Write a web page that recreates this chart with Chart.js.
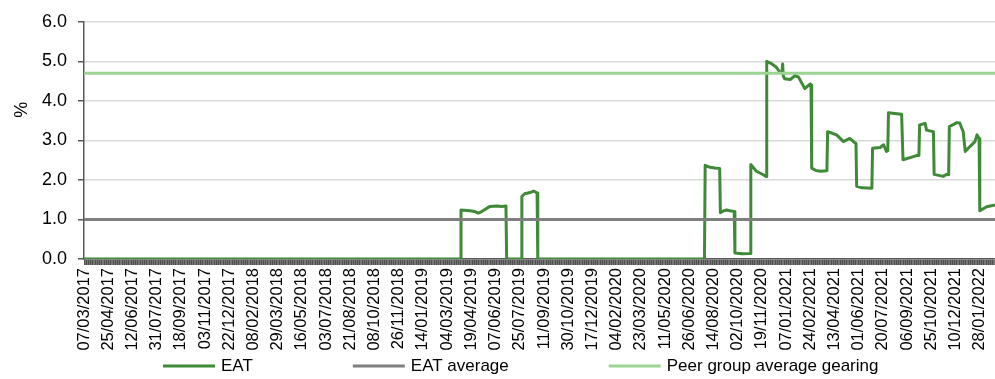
<!DOCTYPE html>
<html>
<head>
<meta charset="utf-8">
<script src="https://cdn.jsdelivr.net/npm/chart.js@4.4.1/dist/chart.umd.min.js"></script>
<style>
  html, body { margin: 0; padding: 0; background: #ffffff; }
  canvas { display: block; }
</style>
</head>
<body>
<canvas id="chart" width="995" height="379"></canvas>
<script>
// Axis labels: one every 35 trading days
const tickLabels = [
  '07/03/2017', '25/04/2017', '12/06/2017', '31/07/2017', '18/09/2017', '03/11/2017',
  '22/12/2017', '08/02/2018', '29/03/2018', '16/05/2018', '03/07/2018', '21/08/2018',
  '08/10/2018', '26/11/2018', '14/01/2019', '04/03/2019', '19/04/2019', '07/06/2019',
  '25/07/2019', '11/09/2019', '30/10/2019', '17/12/2019', '04/02/2020', '23/03/2020',
  '11/05/2020', '26/06/2020', '14/08/2020', '02/10/2020', '19/11/2020', '07/01/2021',
  '24/02/2021', '13/04/2021', '01/06/2021', '20/07/2021', '06/09/2021', '25/10/2021',
  '10/12/2021', '28/01/2022'
];
const labelEvery = 35;     // trading days between labels
const dayCount = 1318;     // trading days on the axis

// EAT gearing (%) by trading day, at the days where it moves
const eatDay = [
  0, 544, 545, 558, 565, 570, 575, 582, 587, 597, 604, 610, 611,
  632, 633, 637, 645, 650, 654, 655, 656,
  897, 898, 905, 912, 919, 920, 925, 929, 934, 940, 941, 952, 963,
  964, 972, 980, 986, 987, 993, 1001, 1006, 1009, 1010, 1011, 1013, 1021,
  1028, 1033, 1042, 1050, 1051, 1052, 1058, 1065, 1074, 1075, 1082, 1088,
  1098, 1107, 1115, 1116, 1117, 1125, 1139, 1140, 1151, 1156, 1160, 1162,
  1163, 1172, 1182, 1184, 1199, 1206, 1207, 1208, 1216, 1218, 1228, 1229,
  1242, 1247, 1250, 1251, 1262, 1266, 1271, 1274, 1281, 1288, 1291, 1294,
  1295, 1305, 1317
];
const eatPct = [
  0, 0, 1.24, 1.22, 1.20, 1.16, 1.20, 1.28, 1.33, 1.34, 1.33, 1.34, 0,
  0, 1.58, 1.65, 1.68, 1.72, 1.68, 1.67, 0,
  0, 2.37, 2.32, 2.30, 2.29, 1.17, 1.22, 1.24, 1.22, 1.20, 0.15, 0.13, 0.14,
  2.39, 2.22, 2.15, 2.09, 5.00, 4.95, 4.85, 4.72, 4.70, 4.93, 4.62, 4.56, 4.54,
  4.64, 4.60, 4.31, 4.43, 4.40, 2.30, 2.24, 2.22, 2.23, 3.22, 3.18, 3.14,
  2.97, 3.05, 2.93, 2.92, 1.84, 1.80, 1.79, 2.80, 2.82, 2.89, 2.72, 2.74,
  3.70, 3.68, 3.66, 2.51, 2.59, 2.63, 2.62, 3.39, 3.43, 3.26, 3.22, 2.14,
  2.09, 2.14, 2.13, 3.35, 3.45, 3.44, 3.22, 2.72, 2.85, 2.97, 3.14, 3.05,
  1.22, 1.32, 1.37
];
const eatAverage = 1.0;
const peerAverage = 4.7;

const seriesNames = ['EAT', 'EAT average', 'Peer group average gearing'];
const seriesColors = ['#3f8a37', '#7f7f7f', '#9cd492'];

const FONT = "'Liberation Sans', Arial, sans-serif";
const lastDay = dayCount - 1;

const eatPoints = eatDay.map((d, i) => ({ x: d, y: eatPct[i] }));
const flatLine = v => [{ x: 0, y: v }, { x: lastDay, y: v }];

// Rotated "%" axis title and a line-sample legend under the axis
const decorations = {
  id: 'decorations',
  afterDraw(chart) {
    const ctx = chart.ctx;
    const area = chart.chartArea;
    ctx.save();
    ctx.fillStyle = '#000000';
    ctx.font = `18px ${FONT}`;
    ctx.textAlign = 'center';
    ctx.textBaseline = 'middle';
    ctx.translate(22, area.top + 88);
    ctx.rotate(-Math.PI / 2);
    ctx.fillText('%', 0, 0);
    ctx.restore();

    ctx.save();
    ctx.font = `17px ${FONT}`;
    ctx.textBaseline = 'middle';
    ctx.textAlign = 'left';
    const y = 366;
    const lineW = 52, gap = 6, itemGap = 100;
    let x = area.left + 79;
    chart.data.datasets.forEach(ds => {
      ctx.strokeStyle = ds.borderColor;
      ctx.lineWidth = 3;
      ctx.beginPath();
      ctx.moveTo(x, y);
      ctx.lineTo(x + lineW, y);
      ctx.stroke();
      x += lineW + gap;
      ctx.fillStyle = '#000000';
      ctx.fillText(ds.label, x, y);
      x += ctx.measureText(ds.label).width + itemGap;
    });
    ctx.restore();
  }
};

new Chart(document.getElementById('chart'), {
  type: 'line',
  data: {
    datasets: [
      { label: seriesNames[0], data: eatPoints, borderColor: seriesColors[0], borderWidth: 3, order: 3 },
      { label: seriesNames[1], data: flatLine(eatAverage), borderColor: seriesColors[1], borderWidth: 3, order: 2 },
      { label: seriesNames[2], data: flatLine(peerAverage), borderColor: seriesColors[2], borderWidth: 3, order: 1 }
    ]
  },
  options: {
    responsive: false,
    animation: false,
    devicePixelRatio: 1,
    layout: { padding: { top: 19, right: 0, bottom: 0, left: 0 } },
    elements: {
      point: { radius: 0, hoverRadius: 0 },
      line: { tension: 0, borderCapStyle: 'butt', borderJoinStyle: 'round' }
    },
    plugins: {
      legend: { display: false },
      tooltip: { enabled: false }
    },
    scales: {
      x: {
        type: 'linear',
        min: 0,
        max: lastDay,
        afterBuildTicks: axis => {
          axis.ticks = Array.from({ length: dayCount }, (_, i) => ({ value: i }));
        },
        afterFit: s => { s.height = 120; s.paddingLeft = 0; s.paddingRight = 0; },
        grid: {
          drawOnChartArea: false,
          drawTicks: true,
          tickLength: 6,
          tickColor: '#3c3c3c',
          tickWidth: 0.7
        },
        border: { color: '#595959', width: 1.5 },
        ticks: {
          autoSkip: false,
          minRotation: 90,
          maxRotation: 90,
          padding: 3,
          color: '#000000',
          font: { family: FONT, size: 16.5 },
          callback: v => (v % labelEvery === 0 ? (tickLabels[v / labelEvery] || '') : '')
        }
      },
      y: {
        min: 0,
        max: 6,
        afterFit: s => { s.width = 84; },
        grid: {
          color: '#d9d9d9',
          lineWidth: 1.5,
          tickLength: 6,
          tickColor: '#595959',
          tickWidth: 1.5
        },
        border: { color: '#595959', width: 1.5 },
        ticks: {
          stepSize: 1,
          padding: 11,
          color: '#000000',
          font: { family: FONT, size: 18 },
          callback: v => v.toFixed(1)
        }
      }
    }
  },
  plugins: [decorations]
});
</script>
</body>
</html>
